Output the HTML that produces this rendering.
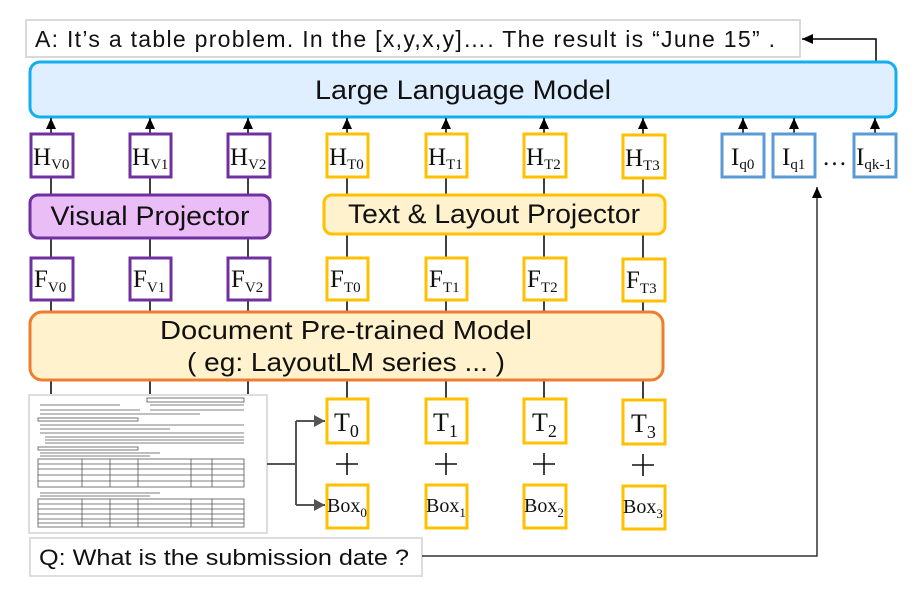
<!DOCTYPE html>
<html><head><style>
body{margin:0;background:#fff;}
svg text{font-family:"Liberation Sans","DejaVu Sans",sans-serif;}
.s{font-family:"Liberation Serif",serif !important;}
</style></head><body>
<svg width="919" height="593" viewBox="0 0 919 593" xmlns="http://www.w3.org/2000/svg">
<defs><marker id="a" markerWidth="12" markerHeight="12" refX="11" refY="6" orient="auto" markerUnits="userSpaceOnUse"><path d="M0,1 L11,6 L0,11 z" fill="#000"/></marker>
<marker id="g" markerWidth="12" markerHeight="12" refX="11" refY="6" orient="auto" markerUnits="userSpaceOnUse"><path d="M0,0 L11,6 L0,12 z" fill="#555"/></marker></defs>
<!-- answer -->
<rect x="26" y="20" width="774" height="37" fill="#fff" stroke="#d9d9d9" stroke-width="2"/>
<text x="35" y="47" font-size="23" fill="#111" textLength="740" lengthAdjust="spacing">A: It’s a table problem. In the [x,y,x,y]…. The result is   “June 15”  .</text>
<polyline points="876,62 876,39 802,39" fill="none" stroke="#000" stroke-width="1.5" marker-end="url(#a)"/>
<!-- LLM -->
<rect x="30" y="62" width="866" height="55" rx="10" fill="#e0efff" stroke="#12aef0" stroke-width="3"/>
<text x="463" y="99" font-size="27" text-anchor="middle" fill="#111" textLength="296" lengthAdjust="spacingAndGlyphs">Large Language Model</text>
<g stroke="#000" stroke-width="1.5" marker-end="url(#a)">
<line x1="51" y1="133" x2="51" y2="118"/><line x1="150" y1="133" x2="150" y2="118"/><line x1="248" y1="133" x2="248" y2="118"/>
<line x1="347" y1="133" x2="347" y2="118"/><line x1="446" y1="133" x2="446" y2="118"/><line x1="544" y1="133" x2="544" y2="118"/><line x1="643" y1="134" x2="643" y2="118"/>
<line x1="743" y1="133" x2="743" y2="118"/><line x1="794" y1="133" x2="794" y2="118"/><line x1="875" y1="133" x2="875" y2="118"/>
</g>
<g stroke="#000" stroke-width="1.5">
<line x1="51" y1="177" x2="51" y2="257"/><line x1="150" y1="177" x2="150" y2="257"/><line x1="248" y1="177" x2="248" y2="257"/>
<line x1="347" y1="177" x2="347" y2="257"/><line x1="446" y1="177" x2="446" y2="257"/><line x1="544" y1="177" x2="544" y2="257"/><line x1="643" y1="178" x2="643" y2="258"/>
<line x1="51" y1="300" x2="51" y2="394"/><line x1="150" y1="300" x2="150" y2="394"/><line x1="248" y1="300" x2="248" y2="394"/>
<line x1="347" y1="300" x2="347" y2="398"/><line x1="446" y1="300" x2="446" y2="398"/><line x1="544" y1="300" x2="544" y2="398"/><line x1="643" y1="300" x2="643" y2="399"/>
</g>
<g fill="#fff" stroke-width="3">
<rect x="31" y="134" width="42" height="43" stroke="#7030a0"/><rect x="130" y="134" width="41" height="43" stroke="#7030a0"/><rect x="228" y="134" width="42" height="43" stroke="#7030a0"/>
<rect x="327" y="134" width="41" height="43" stroke="#ffc000"/><rect x="426" y="134" width="41" height="43" stroke="#ffc000"/><rect x="524" y="134" width="42" height="43" stroke="#ffc000"/><rect x="623" y="135" width="42" height="43" stroke="#ffc000"/>
<rect x="722" y="134" width="42" height="43" stroke="#5b9bd5"/><rect x="773" y="134" width="42" height="43" stroke="#5b9bd5"/><rect x="854" y="134" width="42" height="43" stroke="#5b9bd5"/>
</g>
<g font-size="25" fill="#111">
<text class="s" x="33" y="165">H<tspan font-size="15" dy="4">V0</tspan></text>
<text class="s" x="132" y="165">H<tspan font-size="15" dy="4">V1</tspan></text>
<text class="s" x="230" y="165">H<tspan font-size="15" dy="4">V2</tspan></text>
<text class="s" x="329" y="165">H<tspan font-size="15" dy="4">T0</tspan></text>
<text class="s" x="428" y="165">H<tspan font-size="15" dy="4">T1</tspan></text>
<text class="s" x="526" y="165">H<tspan font-size="15" dy="4">T2</tspan></text>
<text class="s" x="625" y="166">H<tspan font-size="15" dy="4">T3</tspan></text>
<text class="s" x="731" y="165">I<tspan font-size="15" dy="4">q0</tspan></text>
<text class="s" x="782" y="165">I<tspan font-size="15" dy="4">q1</tspan></text>
<text class="s" x="822" y="165">…</text>
<text class="s" x="856" y="165">I<tspan font-size="15" dy="4">qk-1</tspan></text>
</g>
<rect x="30" y="195" width="240" height="43" rx="8" fill="#ebbdf7" stroke="#7030a0" stroke-width="3"/>
<text x="150" y="225" font-size="27" text-anchor="middle" fill="#111" textLength="199" lengthAdjust="spacingAndGlyphs">Visual Projector</text>
<rect x="324" y="195" width="341" height="39" rx="8" fill="#fff2cc" stroke="#ffc000" stroke-width="3"/>
<text x="494" y="223" font-size="27" text-anchor="middle" fill="#111" textLength="292" lengthAdjust="spacingAndGlyphs">Text &amp; Layout Projector</text>
<g fill="#fff" stroke-width="3">
<rect x="31" y="258" width="42" height="42" stroke="#7030a0"/><rect x="130" y="258" width="41" height="42" stroke="#7030a0"/><rect x="228" y="258" width="42" height="42" stroke="#7030a0"/>
<rect x="327" y="258" width="41" height="42" stroke="#ffc000"/><rect x="426" y="258" width="41" height="42" stroke="#ffc000"/><rect x="524" y="258" width="42" height="42" stroke="#ffc000"/><rect x="623" y="259" width="42" height="42" stroke="#ffc000"/>
</g>
<g font-size="25" fill="#111">
<text class="s" x="34" y="287">F<tspan font-size="15" dy="5">V0</tspan></text>
<text class="s" x="133" y="287">F<tspan font-size="15" dy="5">V1</tspan></text>
<text class="s" x="231" y="287">F<tspan font-size="15" dy="5">V2</tspan></text>
<text class="s" x="330" y="287">F<tspan font-size="15" dy="5">T0</tspan></text>
<text class="s" x="429" y="287">F<tspan font-size="15" dy="5">T1</tspan></text>
<text class="s" x="527" y="287">F<tspan font-size="15" dy="5">T2</tspan></text>
<text class="s" x="626" y="288">F<tspan font-size="15" dy="5">T3</tspan></text>
</g>
<rect x="30" y="312" width="633" height="68" rx="12" fill="#fff2cc" stroke="#ed7d31" stroke-width="3"/>
<text x="346" y="339" font-size="26" text-anchor="middle" fill="#111" textLength="372" lengthAdjust="spacingAndGlyphs">Document Pre-trained Model</text>
<text x="346" y="371" font-size="26" text-anchor="middle" fill="#111" textLength="318" lengthAdjust="spacingAndGlyphs">( eg: LayoutLM series ... )</text>
<rect x="29" y="395" width="238" height="138" fill="#fff" stroke="#ddd" stroke-width="2"/>
<g stroke="#555" stroke-width="0.8" fill="none">
<rect x="147" y="398" width="97" height="4"/>
<line x1="40" y1="405" x2="120" y2="405"/><line x1="150" y1="405" x2="244" y2="405"/>
<line x1="40" y1="410" x2="140" y2="410"/><line x1="150" y1="410" x2="244" y2="410"/>
<line x1="40" y1="414" x2="200" y2="414"/>
<rect x="38" y="418" width="100" height="3"/>
<line x1="40" y1="425" x2="244" y2="425"/><line x1="40" y1="429" x2="170" y2="429"/>
<line x1="40" y1="433" x2="244" y2="433"/><line x1="45" y1="437" x2="244" y2="437"/><line x1="45" y1="440" x2="244" y2="440"/><line x1="45" y1="443" x2="244" y2="443"/>
<rect x="38" y="447" width="100" height="3"/>
<line x1="40" y1="453" x2="160" y2="453"/><line x1="40" y1="456" x2="150" y2="456"/>
<rect x="38" y="459" width="206" height="28"/>
<line x1="38" y1="464" x2="244" y2="464"/><line x1="38" y1="469" x2="244" y2="469"/><line x1="38" y1="475" x2="244" y2="475"/><line x1="38" y1="481" x2="244" y2="481"/>
<line x1="82" y1="459" x2="82" y2="487"/><line x1="110" y1="459" x2="110" y2="487"/><line x1="138" y1="459" x2="138" y2="487"/><line x1="191" y1="459" x2="191" y2="487"/><line x1="212" y1="459" x2="212" y2="487"/>
<line x1="40" y1="493" x2="160" y2="493"/><line x1="40" y1="496" x2="150" y2="496"/>
<rect x="38" y="499" width="206" height="28"/>
<line x1="38" y1="504" x2="244" y2="504"/><line x1="38" y1="509" x2="244" y2="509"/><line x1="38" y1="514" x2="244" y2="514"/><line x1="38" y1="519" x2="244" y2="519"/><line x1="38" y1="523" x2="244" y2="523"/>
<line x1="82" y1="499" x2="82" y2="527"/><line x1="110" y1="499" x2="110" y2="527"/><line x1="138" y1="499" x2="138" y2="527"/><line x1="191" y1="499" x2="191" y2="527"/><line x1="212" y1="499" x2="212" y2="527"/>
</g>
<g stroke="#555" stroke-width="2" fill="none">
<line x1="267" y1="464" x2="296" y2="464"/>
<line x1="296" y1="421" x2="296" y2="505"/>
<line x1="296" y1="421" x2="325" y2="421" marker-end="url(#g)"/>
<line x1="296" y1="505" x2="325" y2="505" marker-end="url(#g)"/>
</g>
<g fill="#fff" stroke="#ffc000" stroke-width="3">
<rect x="327" y="399" width="41" height="44"/><rect x="426" y="399" width="41" height="44"/><rect x="524" y="399" width="42" height="44"/><rect x="623" y="400" width="42" height="44"/>
<rect x="327" y="485" width="41" height="43"/><rect x="426" y="485" width="41" height="43"/><rect x="524" y="485" width="42" height="43"/><rect x="623" y="486" width="42" height="43"/>
</g>
<g font-size="26" fill="#111">
<text class="s" x="334" y="431">T<tspan font-size="18" dy="6">0</tspan></text>
<text class="s" x="433" y="431">T<tspan font-size="18" dy="6">1</tspan></text>
<text class="s" x="532" y="431">T<tspan font-size="18" dy="6">2</tspan></text>
<text class="s" x="631" y="432">T<tspan font-size="18" dy="6">3</tspan></text>
</g>
<g stroke="#111" stroke-width="1.6">
<line x1="336" y1="464" x2="358" y2="464"/><line x1="347" y1="453" x2="347" y2="475"/>
<line x1="435" y1="464" x2="457" y2="464"/><line x1="446" y1="453" x2="446" y2="475"/>
<line x1="533" y1="464" x2="555" y2="464"/><line x1="544" y1="453" x2="544" y2="475"/>
<line x1="632" y1="465" x2="654" y2="465"/><line x1="643" y1="454" x2="643" y2="476"/>
</g>
<g font-size="20" fill="#111">
<text class="s" x="327" y="512">Box<tspan font-size="13" dy="5">0</tspan></text>
<text class="s" x="426" y="512">Box<tspan font-size="13" dy="5">1</tspan></text>
<text class="s" x="524" y="512">Box<tspan font-size="13" dy="5">2</tspan></text>
<text class="s" x="623" y="513">Box<tspan font-size="13" dy="5">3</tspan></text>
</g>
<rect x="30" y="538" width="392" height="38" fill="#fff" stroke="#ddd" stroke-width="2"/>
<text x="39" y="565" font-size="22" fill="#111" textLength="370" lengthAdjust="spacingAndGlyphs">Q: What is the submission date ?</text>
<polyline points="422,556 817,556 817,187" fill="none" stroke="#333" stroke-width="1.5" marker-end="url(#a)"/>
</svg>
</body></html>
